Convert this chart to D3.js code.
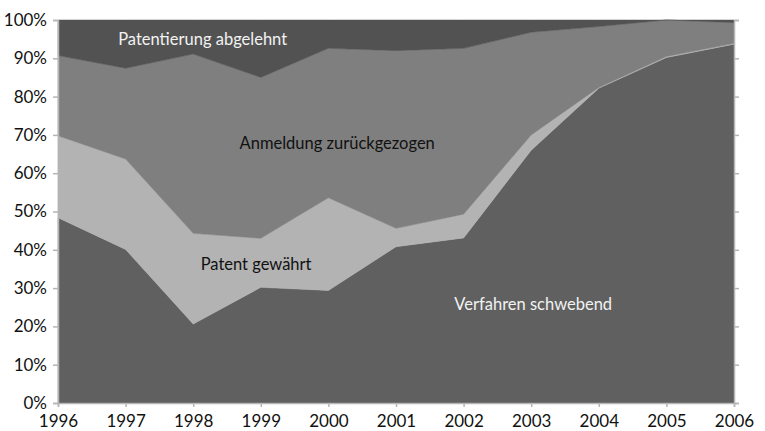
<!DOCTYPE html>
<html>
<head>
<meta charset="utf-8">
<script src="https://cdn.jsdelivr.net/npm/d3@7"></script>
<style>
  body { margin: 0; background: #fff; }
  text { font-family: Lato, "Open Sans", sans-serif; }
</style>
</head>
<body>
<div id="wrapper"></div>
<script>
// data (percent shares per year)
const years = [1996, 1997, 1998, 1999, 2000, 2001, 2002, 2003, 2004, 2005, 2006];
const schwebend = [48.4, 40.1, 20.6, 30.2, 29.4, 40.8, 43.1, 66.0, 82.2, 90.2, 93.7];
const gewaehrt = [21.4, 23.6, 23.7, 12.8, 24.2, 4.8, 6.2, 4.0, 0.2, 0.3, 0.2];
const zurueckgezogen = [20.9, 23.7, 46.8, 42.0, 39.0, 46.4, 43.3, 26.8, 15.9, 9.5, 5.4];
const abgelehnt = [9.3, 12.6, 8.9, 15.0, 7.4, 8.0, 7.4, 3.2, 1.7, 0.0, 0.7];
const yTicks = [0, 10, 20, 30, 40, 50, 60, 70, 80, 90, 100];

const seriesNames = ['schwebend', 'gewaehrt', 'zurueckgezogen', 'abgelehnt'];
const colors = {
  schwebend: '#5f605f',
  gewaehrt: '#b3b3b3',
  zurueckgezogen: '#7f7f7f',
  abgelehnt: '#525252'
};
const labels = [
  { text: 'Patentierung abgelehnt', year: 1998.14, val: 94.5, fill: '#f2f2f2' },
  { text: 'Anmeldung zurückgezogen', year: 2000.13, val: 67.3, fill: '#111' },
  { text: 'Patent gewährt', year: 1998.93, val: 35.7, fill: '#111' },
  { text: 'Verfahren schwebend', year: 2003.03, val: 25.3, fill: '#f2f2f2' }
];

const table = years.map((y, i) => ({
  year: y,
  schwebend: schwebend[i],
  gewaehrt: gewaehrt[i],
  zurueckgezogen: zurueckgezogen[i],
  abgelehnt: abgelehnt[i]
}));

const dimensions = {
  width: 765,
  height: 431,
  margin: { top: 20, right: 31, bottom: 28, left: 58 }
};
dimensions.boundW = dimensions.width - dimensions.margin.left - dimensions.margin.right;
dimensions.boundH = dimensions.height - dimensions.margin.top - dimensions.margin.bottom;

const svg = d3.select('#wrapper').append('svg')
  .attr('width', dimensions.width)
  .attr('height', dimensions.height);

const bounds = svg.append('g')
  .attr('transform', `translate(${dimensions.margin.left},${dimensions.margin.top})`);

const xScale = d3.scaleLinear()
  .domain([years[0], years[years.length - 1]])
  .range([0, dimensions.boundW]);

const yScale = d3.scaleLinear()
  .domain([0, 100])
  .range([dimensions.boundH, 0]);

const stacked = d3.stack().keys(seriesNames)(table);

const areaGen = d3.area()
  .x(d => xScale(d.data.year))
  .y0(d => yScale(d[0]))
  .y1(d => yScale(Math.min(100, d[1])));

bounds.selectAll('path.layer')
  .data(stacked)
  .join('path')
  .attr('class', 'layer')
  .attr('d', areaGen)
  .attr('fill', d => colors[d.key])
  .attr('stroke', d => colors[d.key])
  .attr('stroke-width', 0.5);

// axes
const axisColor = '#b5b5b5';

const yAxis = bounds.append('g')
  .call(d3.axisLeft(yScale).tickValues(yTicks).tickFormat(d => d + '%').tickSize(5).tickPadding(6));

const yAxisRight = bounds.append('g')
  .attr('transform', `translate(${dimensions.boundW},0)`)
  .call(d3.axisRight(yScale).tickValues(yTicks).tickFormat('').tickSize(5));

const xAxis = bounds.append('g')
  .attr('transform', `translate(0,${dimensions.boundH})`)
  .call(d3.axisBottom(xScale).tickValues(years).tickFormat(d3.format('d')).tickSize(4).tickPadding(8));

[yAxis, yAxisRight, xAxis].forEach(a => {
  a.select('.domain').attr('stroke', axisColor).attr('stroke-width', 1.5);
  a.selectAll('.tick line').attr('stroke', axisColor).attr('stroke-width', 1.5);
  a.selectAll('.tick text')
    .attr('fill', '#111')
    .style('font-size', '17px')
    .style('font-family', 'Lato, "Open Sans", sans-serif');
});

// area labels
bounds.selectAll('text.lbl')
  .data(labels)
  .join('text')
  .attr('class', 'lbl')
  .attr('x', d => xScale(d.year))
  .attr('y', d => yScale(d.val))
  .attr('text-anchor', 'middle')
  .attr('dominant-baseline', 'middle')
  .attr('fill', d => d.fill)
  .style('font-size', '16.5px')
  .text(d => d.text);
</script>
</body>
</html>
